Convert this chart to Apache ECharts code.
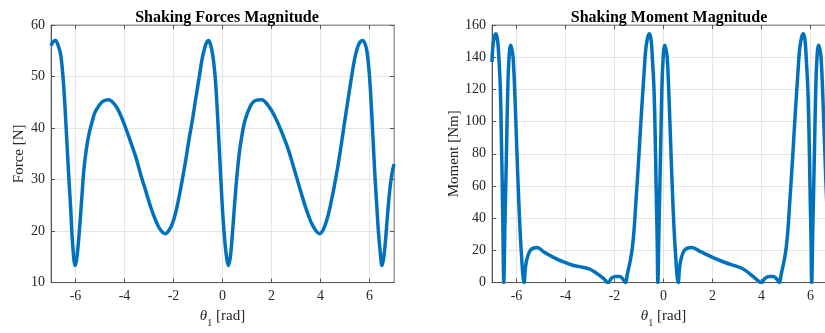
<!DOCTYPE html>
<html>
<head>
<meta charset="utf-8">
<script src="https://cdn.jsdelivr.net/npm/echarts@6/dist/echarts.min.js"></script>
<style>
html, body { margin: 0; padding: 0; background: #fff; overflow: hidden; }
#chart { width: 850px; height: 333px; }
</style>
</head>
<body>
<div id="chart"></div>
<script>
// theta axis ticks (rad)
var thetaTicks = [-6, -4, -2, 0, 2, 4, 6];

// shaking force magnitude
var thetaF = [-7.00, -6.92, -6.82, -6.72, -6.61, -6.54, -6.48, -6.41, -6.34, -6.27, -6.20, -6.11, -6.01, -5.94, -5.86, -5.79, -5.72, -5.66, -5.56, -5.45,
    -5.30, -5.18, -4.91, -4.66, -4.36, -4.15, -3.95, -3.75, -3.54, -3.34, -3.14, -2.94, -2.73, -2.54, -2.34, -2.18, -2.04, -1.90, -1.77, -1.64,
    -1.50, -1.37, -1.23, -1.09, -0.95, -0.84, -0.75, -0.66, -0.57, -0.48, -0.40, -0.32, -0.25, -0.18, -0.11, -0.04, 0.03, 0.10, 0.17, 0.24,
    0.32, 0.40, 0.48, 0.56, 0.64, 0.72, 0.82, 0.92, 1.12, 1.32, 1.59, 1.86, 2.14, 2.41, 2.68, 2.94, 3.20, 3.45, 3.70, 3.96,
    4.20, 4.47, 4.74, 5.01, 5.28, 5.40, 5.49, 5.60, 5.72, 5.82, 5.89, 5.96, 6.03, 6.10, 6.16, 6.23, 6.30, 6.37, 6.44, 6.51,
    6.58, 6.66, 6.74, 6.82, 6.91, 7.00];
var force = [56.0, 56.7, 57.0, 56.2, 54.4, 51.5, 48.0, 42.5, 36.3, 30.2, 24.7, 17.0, 13.3, 15.0, 19.0, 23.4, 28.0, 31.8, 35.8, 38.8,
    41.6, 43.3, 45.1, 45.5, 44.3, 42.4, 40.0, 37.3, 34.4, 31.0, 27.9, 24.8, 22.1, 20.3, 19.5, 20.2, 21.5, 23.8, 26.7, 30.0,
    33.8, 37.7, 41.5, 45.8, 49.9, 53.2, 55.1, 56.5, 57.0, 56.0, 54.2, 51.0, 46.5, 40.5, 34.0, 27.5, 22.0, 17.8, 14.8, 13.3,
    15.0, 19.2, 24.3, 29.2, 33.2, 36.4, 39.3, 41.5, 44.1, 45.3, 45.5, 44.4, 42.2, 39.3, 35.9, 31.8, 27.6, 23.8, 20.9, 19.5,
    21.3, 26.5, 33.5, 42.0, 50.3, 53.6, 55.3, 56.6, 57.0, 56.3, 55.0, 52.3, 48.0, 42.0, 36.4, 30.0, 24.7, 19.5, 15.8, 13.3,
    14.8, 18.6, 23.4, 27.6, 31.0, 33.0];

// shaking moment magnitude
var thetaM = [-7.00, -6.94, -6.84, -6.77, -6.72, -6.66, -6.62, -6.58, -6.55, -6.52, -6.48, -6.44, -6.40, -6.37, -6.32, -6.24, -6.19, -6.14, -6.07, -5.99,
    -5.90, -5.80, -5.69, -5.63, -5.55, -5.44, -5.30, -5.15, -4.90, -4.49, -4.08, -3.67, -3.30, -3.00, -2.71, -2.44, -2.26, -2.12, -1.95, -1.80,
    -1.66, -1.55, -1.48, -1.41, -1.34, -1.27, -1.20, -1.14, -1.07, -1.00, -0.93, -0.86, -0.79, -0.73, -0.65, -0.57, -0.50, -0.45, -0.39, -0.34,
    -0.30, -0.26, -0.23, -0.19, -0.15, -0.11, -0.08, -0.03, 0.05, 0.10, 0.15, 0.22, 0.30, 0.39, 0.49, 0.60, 0.66, 0.74, 0.85, 1.00,
    1.15, 1.51, 2.00, 2.46, 2.90, 3.15, 3.41, 3.76, 4.00, 4.15, 4.32, 4.47, 4.62, 4.73, 4.80, 4.87, 4.94, 5.01, 5.08, 5.14,
    5.21, 5.28, 5.35, 5.42, 5.49, 5.55, 5.63, 5.71, 5.78, 5.83, 5.89, 5.94, 5.98, 6.02, 6.05, 6.09, 6.13, 6.17, 6.20, 6.25,
    6.33, 6.38, 6.43, 6.50, 6.58, 6.67, 6.77, 6.88, 6.94, 7.00];
var moment = [137, 150, 154.5, 150, 140, 121, 92, 59, 28, 0, 30, 59, 88, 111, 135, 147.5, 145, 140, 118, 84,
    48, 18, 0, 10, 16, 20, 21.5, 21.8, 19.2, 15.7, 12.8, 10.6, 9.5, 8.3, 5.6, 2.5, 0, 2.8, 3.8, 3.8,
    2.3, 0, 5, 9.7, 15, 22, 33, 47, 63, 80, 98, 115, 131, 144, 152, 154.5, 150, 138, 121, 92,
    59, 28, 0, 30, 59, 88, 111, 135, 147.5, 145, 140, 117, 83, 47, 18, 0, 10, 16, 20, 21.5,
    21.8, 19.2, 15.7, 12.8, 10.5, 9.2, 6.8, 2.5, 0, 2.8, 3.8, 3.8, 2.3, 0, 5, 9.7, 15, 22, 33, 47,
    63, 80, 98, 115, 131, 144, 152, 154.5, 150, 138, 121, 92, 59, 28, 0, 30, 59, 88, 111, 135,
    147.5, 145, 140, 117, 83, 47, 18, 0, 10, 15];

function zip(xs, ys) {
    var out = [];
    for (var i = 0; i < xs.length; i++) {
        out.push([xs[i], ys[i]]);
    }
    return out;
}

var font = 'Liberation Serif';
var textColor = '#262626';
var axisColor = '#555555';
var boxColor = '#9a9a9a';
var lineColor = '#0072BD';

function xAxisOf(gridIndex) {
    return {
        gridIndex: gridIndex,
        type: 'value',
        min: -7,
        max: 7,
        name: '{i|θ}{s|1} [rad]',
        nameLocation: 'middle',
        nameGap: 20,
        nameTextStyle: {
            fontFamily: font,
            fontSize: 15,
            color: textColor,
            rich: {
                i: { fontFamily: font, fontStyle: 'italic', fontSize: 15, color: textColor, lineHeight: 24 },
                s: { fontFamily: font, fontSize: 10, color: textColor, verticalAlign: 'bottom', lineHeight: 24 }
            }
        },
        axisLine: { show: true, onZero: false, lineStyle: { color: axisColor, width: 1 } },
        axisTick: { show: true, inside: true, length: 4, customValues: thetaTicks, lineStyle: { color: axisColor } },
        axisLabel: { customValues: thetaTicks, margin: 7, fontFamily: font, fontSize: 14, color: textColor },
        splitLine: { show: true, lineStyle: { color: '#e5e5e5', width: 1 } }
    };
}

// mirrored ticks on the top edge (box on)
function topAxisOf(gridIndex) {
    return {
        gridIndex: gridIndex,
        type: 'value',
        position: 'top',
        min: -7,
        max: 7,
        axisLine: { show: true, onZero: false, lineStyle: { color: boxColor, width: 1 } },
        axisTick: { show: true, inside: true, length: 4, customValues: thetaTicks, lineStyle: { color: axisColor } },
        axisLabel: { show: false },
        splitLine: { show: false }
    };
}

function yAxisOf(gridIndex, name, min, max, step, gap) {
    return {
        gridIndex: gridIndex,
        type: 'value',
        min: min,
        max: max,
        interval: step,
        name: name,
        nameLocation: 'middle',
        nameGap: gap,
        nameTextStyle: { fontFamily: font, fontSize: 15, color: textColor },
        axisLine: { show: true, onZero: false, lineStyle: { color: axisColor, width: 1 } },
        axisTick: { show: true, inside: true, length: 4, lineStyle: { color: axisColor } },
        axisLabel: { margin: 6, fontFamily: font, fontSize: 14, color: textColor },
        splitLine: { show: true, lineStyle: { color: '#e5e5e5', width: 1 } }
    };
}

var myChart = echarts.init(document.getElementById('chart'));
var option = {
    backgroundColor: '#ffffff',
    animation: false,
    title: [
        {
            text: 'Shaking Forces Magnitude',
            left: 222,
            top: 5,
            textAlign: 'center',
            textStyle: { fontFamily: font, fontSize: 16, fontWeight: 'bold', color: '#000' }
        },
        {
            text: 'Shaking Moment Magnitude',
            left: 664,
            top: 5,
            textAlign: 'center',
            textStyle: { fontFamily: font, fontSize: 16, fontWeight: 'bold', color: '#000' }
        }
    ],
    grid: [
        { left: 51, top: 25, width: 343, height: 258, show: true, borderColor: boxColor, borderWidth: 1 },
        { left: 492, top: 25, width: 343, height: 258, show: true, borderColor: boxColor, borderWidth: 1 }
    ],
    xAxis: [xAxisOf(0), xAxisOf(1), topAxisOf(0), topAxisOf(1)],
    yAxis: [
        yAxisOf(0, 'Force [N]', 10, 60, 10, 24),
        yAxisOf(1, 'Moment [Nm]', 0, 160, 20, 30),
        {
            gridIndex: 0,
            type: 'value',
            position: 'right',
            min: 10,
            max: 60,
            interval: 10,
            axisLine: { show: true, onZero: false, lineStyle: { color: boxColor, width: 1 } },
            axisTick: { show: true, inside: true, length: 4, lineStyle: { color: axisColor } },
            axisLabel: { show: false },
            splitLine: { show: false }
        }
    ],
    series: [
        {
            name: 'Force',
            type: 'line',
            xAxisIndex: 0,
            yAxisIndex: 0,
            showSymbol: false,
            smooth: 0.4,
            clip: true,
            lineStyle: { color: lineColor, width: 3.5 },
            data: zip(thetaF, force)
        },
        {
            name: 'Moment',
            type: 'line',
            xAxisIndex: 1,
            yAxisIndex: 1,
            showSymbol: false,
            smooth: 0.4,
            clip: true,
            lineStyle: { color: lineColor, width: 3.5 },
            data: zip(thetaM, moment)
        }
    ]
};
myChart.setOption(option);
</script>
</body>
</html>
